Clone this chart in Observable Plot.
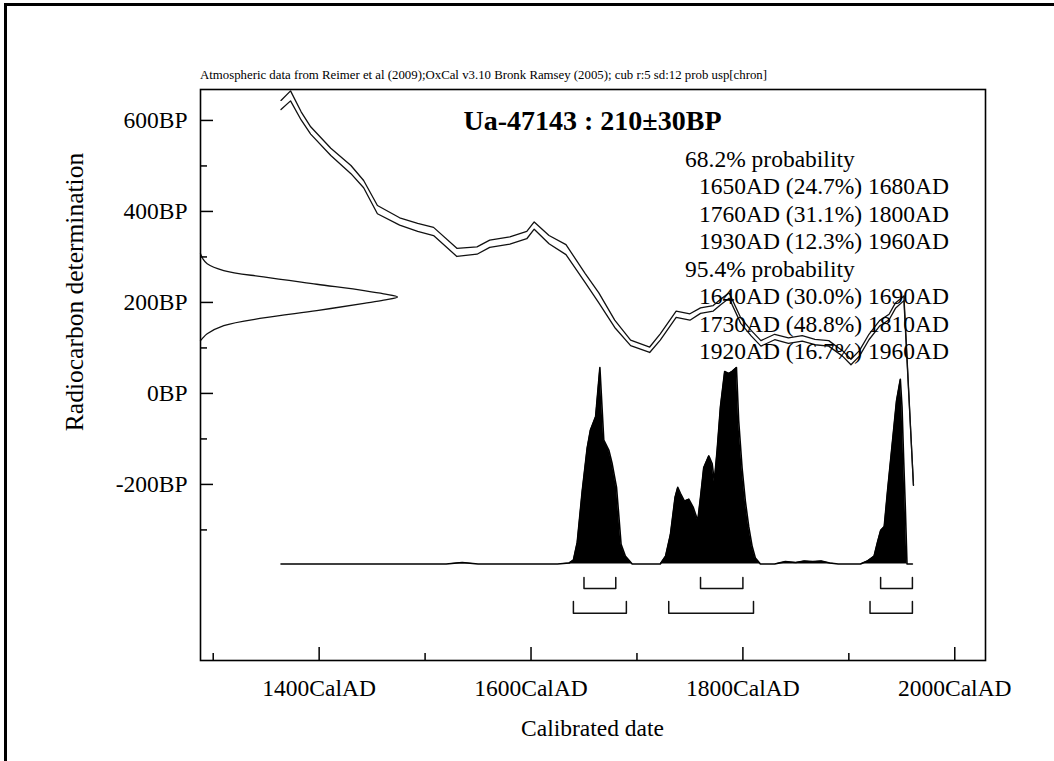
<!DOCTYPE html>
<html><head><meta charset="utf-8">
<script src="https://cdn.jsdelivr.net/npm/d3@7"></script>
<script src="https://cdn.jsdelivr.net/npm/@observablehq/plot@0.6"></script>
<style>
html,body{margin:0;padding:0;background:#fff;}
#page{position:relative;width:1054px;height:761px;overflow:hidden;background:#fff;}
#border{position:absolute;left:4px;top:3px;right:-10px;bottom:-10px;border-top:3px solid #000;border-left:3px solid #000;}
#page svg{position:absolute;left:0;top:0;}
</style></head><body><div id="page"><div id="border"></div></div>
<script>
// ---------- data ----------
const sampleId = "Ua-47143";
const c14Age = 210;
const c14Err = 30;
const headerText = "Atmospheric data from Reimer et al (2009);OxCal v3.10 Bronk Ramsey (2005); cub r:5 sd:12 prob usp[chron]";
const xLabel = "Calibrated date";
const yLabel = "Radiocarbon determination";
const xTickYears = [1400, 1600, 1800, 2000];
const xMinorYears = [1300, 1500, 1700, 1900];
const yTickBP = [600, 400, 200, 0, -200];
const yMinorBP = [500, 300, 100, -100, -300];

// calibration curve (IntCal09 as drawn): year, mean BP, half-width BP
const calYear = [1364,1373,1383,1392,1411,1430,1442,1455,1476,1493,1508,1530,1549,1561,1580,1596,1603,1617,1633,1651,1664,1679,1694,1712,1722,1737,1750,1760,1772,1779,1787,1798,1808,1817,1830,1843,1856,1868,1881,1894,1902,1910,1919,1929,1938,1944,1952,1961];
const calMean = [634,654,610,578,531,492,460,404,378,365,356,310,314,329,336,348,369,338,316,254,210,153,111,96,124,174,168,182,187,201,215,160,132,110,124,116,121,113,110,88,69,88,124,154,168,193,209,-202];
const calHalf = [10,11,9,8,8,9,8,9,8,9,9,9,8,8,8,8,8,9,11,10,11,8,6,6,7,7,7,6,6,6,6,6,6,6,6,6,6,6,6,6,6,6,6,6,6,6,5,0];

// radiocarbon measurement distribution (relative density)
const gaussBP = [307,296,285,270,256,240,226,219,212,205,198,182,166,149,131,122,116];
const gaussP  = [0,0.012,0.034,0.118,0.32,0.59,0.83,0.93,1.0,0.93,0.83,0.59,0.32,0.118,0.034,0.012,0];

// calibrated probability distribution (relative density)
const postYear = [1364,1520,1535,1550,1625,1636,1640,1643.6,1648.3,1653,1656,1661,1665,1668.7,1673.4,1676.6,1680.7,1682.8,1685,1689,1695.5,1722,1727,1731.6,1736,1738.5,1741,1744.8,1748.9,1753,1757.4,1760,1763,1767.8,1771,1773,1775.7,1778.8,1782.8,1786.6,1789.8,1793.9,1796,1799.2,1802.3,1805.5,1808.7,1811.8,1816.5,1830,1840,1850,1858,1866,1874,1882,1890,1911,1917.5,1923.8,1927,1930,1933.4,1936.5,1941.3,1945,1948.6,1950.2,1951.7,1953.3,1954.9,1960];
const postP = [0,0,0.008,0,0,0.005,0.02,0.11,0.37,0.59,0.68,0.75,1.0,0.63,0.58,0.51,0.39,0.25,0.10,0.04,0,0,0.04,0.15,0.34,0.39,0.36,0.32,0.33,0.29,0.22,0.34,0.49,0.55,0.51,0.42,0.58,0.80,0.98,0.97,0.98,1.0,0.73,0.49,0.32,0.19,0.09,0.03,0,0,0.012,0.008,0.015,0.012,0.015,0.005,0,0,0.015,0.04,0.11,0.17,0.19,0.37,0.63,0.83,0.94,0.80,0.54,0.29,0,0];

// probability ranges
const range68 = [[1650,1680],[1760,1800],[1930,1960]];
const pct68 = [24.7, 31.1, 12.3];
const range95 = [[1640,1690],[1730,1810],[1920,1960]];
const pct95 = [30.0, 48.8, 16.7];

// ---------- layout ----------
const W = 1054, H = 761;
const fL = 200, fR = 985, fT = 89, fB = 660;
const xDom = [1288, 2029], yDom = [-587, 668];
const pxX = (fR - fL) / (xDom[1] - xDom[0]);
const pxY = (fB - fT) / (yDom[1] - yDom[0]);
const bpAt = px => yDom[1] - (px - fT) / pxY;       // pixel row -> BP
const FONT = "'Liberation Serif','Times New Roman',Times,serif";

const postBase = bpAt(563.5), postHeight = 196.5 / pxY;
const gaussWidth = 197 / pxX;

const cal = calYear.map((y, i) => ({year: y, mean: calMean[i], half: calHalf[i]}));
const gauss = gaussBP.map((b, i) => ({bp: b, p: gaussP[i]}));
const post = postYear.map((y, i) => ({year: y, p: postP[i]}));

const brackets = [];
[[range68, 577, 588], [range95, 601, 612.7]].forEach(([rs, top, bot], k) => {
  rs.forEach((r, j) => {
    const id = k + "-" + j;
    brackets.push({id, x: r[0], y: bpAt(top)}, {id, x: r[0], y: bpAt(bot)},
                  {id, x: r[1], y: bpAt(bot)}, {id, x: r[1], y: bpAt(top)});
  });
});

const majLen = 13, minLen = 7;

const plot = Plot.plot({
  width: W, height: H,
  marginLeft: fL, marginRight: W - fR, marginTop: fT, marginBottom: H - fB,
  x: {domain: xDom, label: null},
  y: {domain: yDom, label: null},
  style: {fontFamily: FONT, background: "transparent", color: "#000", overflow: "visible"},
  marks: [
    Plot.areaY(post, {x: "year", y1: postBase, y2: d => postBase + d.p * postHeight, fill: "#000", curve: "linear"}),
    Plot.line(post, {x: "year", y: d => postBase + d.p * postHeight, stroke: "#000", strokeWidth: 1.6}),
    Plot.line(cal, {x: "year", y: d => d.mean + d.half, stroke: "#111", strokeWidth: 1.3, strokeLinejoin: "round"}),
    Plot.line(cal, {x: "year", y: d => d.mean - d.half, stroke: "#111", strokeWidth: 1.3, strokeLinejoin: "round"}),
    Plot.line(gauss, {x: d => xDom[0] + d.p * gaussWidth, y: "bp", stroke: "#111", strokeWidth: 1.3, curve: "catmull-rom"}),
    Plot.line(brackets, {x: "x", y: "y", z: "id", stroke: "#111", strokeWidth: 1.5}),
    Plot.ruleX(xTickYears, {y1: yDom[0], y2: yDom[0] + majLen / pxY, stroke: "#000", strokeWidth: 1.5}),
    Plot.ruleX(xMinorYears, {y1: yDom[0], y2: yDom[0] + minLen / pxY, stroke: "#000", strokeWidth: 1.5}),
    Plot.ruleY(yTickBP, {x1: xDom[0], x2: xDom[0] + majLen / pxX, stroke: "#000", strokeWidth: 1.5}),
    Plot.ruleY(yMinorBP, {x1: xDom[0], x2: xDom[0] + minLen / pxX, stroke: "#000", strokeWidth: 1.5}),
    Plot.axisX(xTickYears, {anchor: "bottom", tickSize: 0, tickPadding: 19, tickFormat: d => `${d}CalAD`, fontSize: 23.5, label: null}),
    Plot.axisY(yTickBP, {anchor: "left", tickSize: 0, tickPadding: 13, tickFormat: d => `${d}BP`, fontSize: 23.5, label: null}),
    Plot.frame({stroke: "#000", strokeWidth: 1.6})
  ]
});

document.getElementById("page").appendChild(plot);

// ---------- annotations ----------
const g = d3.select(plot).append("g").attr("font-family", FONT).attr("fill", "#000").attr("text-anchor", "start");
g.append("text").attr("x", fL).attr("y", 79).attr("font-size", 11.5).attr("text-anchor", "start")
  .attr("textLength", 567).attr("lengthAdjust", "spacingAndGlyphs").text(headerText);
g.append("text").attr("x", (fL + fR) / 2).attr("y", 130).attr("text-anchor", "middle")
  .attr("font-weight", "bold").attr("font-size", 28).text(`${sampleId} : ${c14Age}±${c14Err}BP`);
const probLines = [
  {t: "68.2% probability", head: true},
  ...range68.map((r, i) => ({t: `${r[0]}AD (${pct68[i].toFixed(1)}%) ${r[1]}AD`})),
  {t: "95.4% probability", head: true},
  ...range95.map((r, i) => ({t: `${r[0]}AD (${pct95[i].toFixed(1)}%) ${r[1]}AD`}))
];
probLines.forEach((l, i) => {
  g.append("text").attr("x", l.head ? 685 : 699).attr("y", 166.7 + i * 27.5)
    .attr("text-anchor", "start").attr("font-size", 23.5).text(l.t);
});
g.append("text").attr("x", (fL + fR) / 2).attr("y", 736).attr("text-anchor", "middle")
  .attr("font-size", 23.5).text(xLabel);
g.append("text").attr("transform", "translate(83,292) rotate(-90)").attr("text-anchor", "middle")
  .attr("font-size", 25.5).text(yLabel);
</script>
</body></html>
